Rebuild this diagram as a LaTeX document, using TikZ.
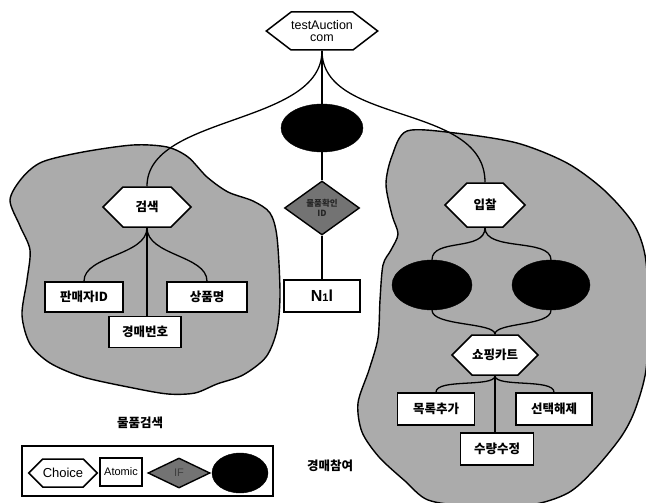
\documentclass[tikz,border=0pt]{standalone}
\usepackage{fontspec}
\setmainfont{Liberation Sans}
\newfontfamily\kr{Noto Sans CJK KR}
\usetikzlibrary{shapes.geometric,shapes.symbols}
\tikzset{
  krfont/.style={font=\kr\bfseries\fontsize{12.5}{14}\selectfont},
  hexnode/.style={signal, signal to=east and west, signal pointer angle=90, draw, line width=1.5pt, fill=white, inner sep=0pt, krfont},
  boxnode/.style={rectangle, draw, line width=1.6pt, fill=white, inner sep=0pt, krfont},
  darkell/.style={ellipse, draw=black, fill=black, inner sep=0pt},
  ifnode/.style={diamond, draw, line width=1.4pt, fill=black!55, inner sep=0pt},
  link/.style={line width=1.3pt},
  blob/.style={draw, line width=1.4pt, fill=black!33},
  lbl/.style={krfont},
}
\begin{document}
\begin{tikzpicture}[x=1pt,y=-1pt]
\useasboundingbox (0,0) rectangle (646,503);
\clip (0,0) rectangle (646,503);
% regions
\path[blob] plot[smooth cycle] coordinates {(10,200) (22,178) (42,162) (83,152) (133,145) (167,147) (188,157) (207,177) (228,192) (253,201) (270,213) (277,237) (280,293) (277,330) (266,357) (243,375) (217,384) (195,393) (168,394) (133,388) (83,377) (50,363) (30,344) (22,315) (27,280) (30,250) (20,226)};
\path[blob] plot[smooth cycle] coordinates {(407,131) (455,133) (517,143) (567,163) (604,190) (633,223) (645,255) (649,310) (646,370) (635,410) (621,437) (594,470) (568,493) (530,505) (470,506) (428,500) (405,481) (379,457) (362,432) (358,403) (369,370) (378,338) (380,300) (383,265) (391,250) (398,234) (392,215) (386,184) (392,156)};

% center column
\node[hexnode, signal pointer angle=75, minimum width=99pt, minimum height=38pt, align=center, font=\fontsize{12.5}{12.5}\selectfont] (top) at (322,31) {testAuction\\com};
\node[darkell, minimum width=82pt, minimum height=48pt] (e0) at (322,128) {};
\node[ifnode, minimum width=75pt, minimum height=54pt, align=center, font=\kr\bfseries\fontsize{8.5}{9.5}\selectfont, text=black!85] (d0) at (322,208) {물품확인\\ID};
\node[boxnode, minimum width=76pt, minimum height=32pt, font=\bfseries\fontsize{16}{16}\selectfont] (n0) at (322,296) {N{\fontsize{11}{11}\selectfont 1}l};

% left group
\node[hexnode, minimum width=88pt, minimum height=40pt] (s1) at (147,207) {검색};
\node[boxnode, minimum width=78pt, minimum height=30pt] (b1) at (84,297) {판매자ID};
\node[boxnode, minimum width=80pt, minimum height=30pt] (b2) at (207,297) {상품명};
\node[boxnode, minimum width=72pt, minimum height=31pt] (b3) at (145,332) {경매번호};

% right group
\node[hexnode, minimum width=80pt, minimum height=44pt] (s2) at (485,205) {입찰};
\node[darkell, minimum width=80pt, minimum height=50pt] (e1) at (432,285) {};
\node[darkell, minimum width=78pt, minimum height=50pt] (e2) at (551,285) {};
\node[hexnode, minimum width=80pt, minimum height=40pt] (s3) at (495,355) {쇼핑카트};
\node[boxnode, minimum width=77pt, minimum height=32pt] (c1) at (436,409) {목록추가};
\node[boxnode, minimum width=76pt, minimum height=32pt] (c2) at (554,409) {선택해제};
\node[boxnode, minimum width=73pt, minimum height=32pt] (c3) at (497,449) {수량수정};

% labels
\node[lbl] (l1) at (140,423) {물품검색};
\node[lbl] (l2) at (330,466) {경매참여};

% legend
\node[rectangle, draw, line width=1.5pt, fill=white, minimum width=251pt, minimum height=50pt] (leg) at (147.5,471) {};
\node[hexnode, minimum width=68pt, minimum height=28pt, font=\fontsize{13}{13}\selectfont] (lc) at (63,473) {Choice};
\node[boxnode, minimum width=42pt, minimum height=28pt, font=\fontsize{11}{11}\selectfont] (la) at (121,472) {Atomic};
\node[ifnode, minimum width=62pt, minimum height=30pt, font=\fontsize{11}{11}\selectfont, text=black!75] (li) at (179,473) {IF};
\node[darkell, minimum width=56pt, minimum height=40pt] (le) at (240,473) {};

% connectors
\draw[link] (top.south) -- (e0.north);
\draw[link] (top.south) .. controls +(0,75) and +(0,-72) .. (s1.north);
\draw[link] (top.south) .. controls +(0,75) and +(0,-80) .. (s2.north);
\draw[link] (e0.south) -- (d0.north);
\draw[link] (d0.south) -- (n0.north);

\draw[link] (s1.south) .. controls +(0,28) and +(0,-26) .. (b1.north);
\draw[link] (s1.south) .. controls +(0,28) and +(0,-26) .. (b2.north);
\draw[link] (s1.south) -- (s1.south |- b3.north);

\draw[link] (s2.south) .. controls +(0,24) and +(0,-22) .. (e1.north);
\draw[link] (s2.south) .. controls +(0,24) and +(0,-22) .. (e2.north);
\draw[link] (e1.south) .. controls +(0,16) and +(0,-12) .. (s3.north);
\draw[link] (e2.south) .. controls +(0,16) and +(0,-12) .. (s3.north);

\draw[link] (s3.south) .. controls +(0,12) and +(0,-14) .. (c1.north);
\draw[link] (s3.south) .. controls +(0,12) and +(0,-14) .. (c2.north);
\draw[link] (s3.south) -- (s3.south |- c3.north);
\end{tikzpicture}
\end{document}
